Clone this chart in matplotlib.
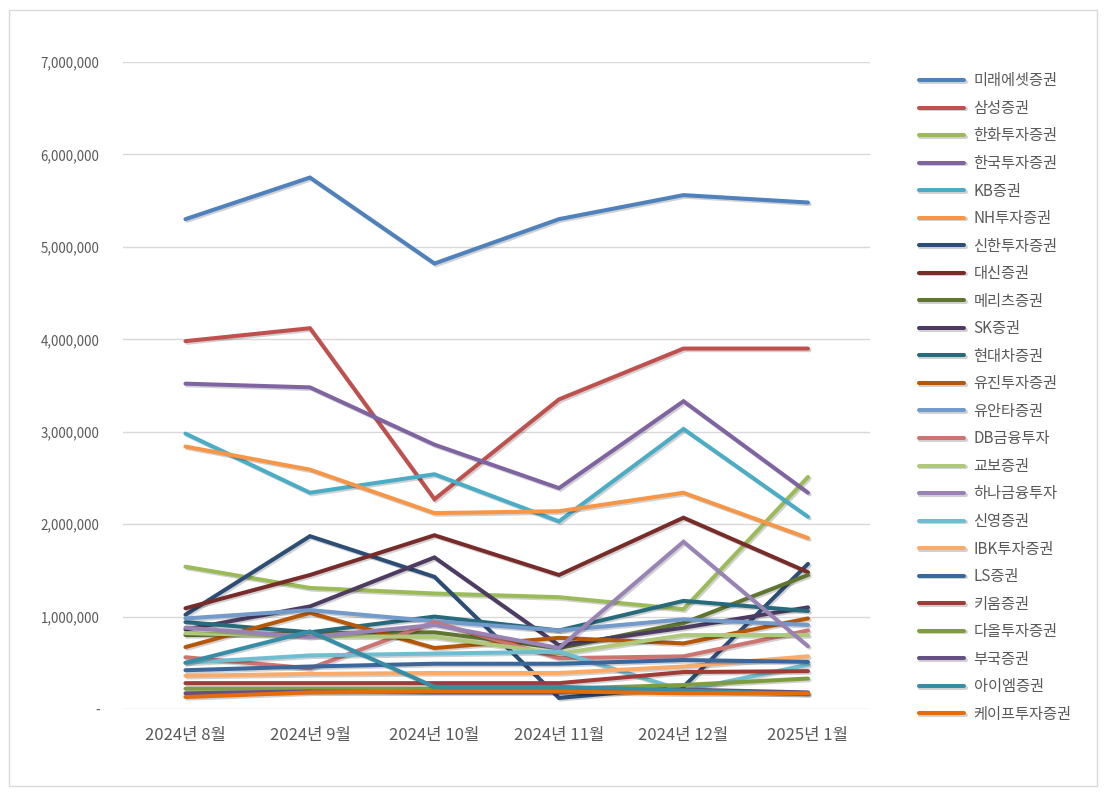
import matplotlib
matplotlib.use('Agg')
import matplotlib.pyplot as plt
import matplotlib.patheffects as pe
from matplotlib.patches import Rectangle
from matplotlib.ticker import FuncFormatter, MultipleLocator

plt.rcParams['font.family'] = ['Noto Sans CJK KR', 'DejaVu Sans']
plt.rcParams['axes.unicode_minus'] = False

# 월 (카테고리)
months = ['2024년 8월', '2024년 9월', '2024년 10월', '2024년 11월', '2024년 12월', '2025년 1월']

# 증권사별 값
miraeasset = [5300000, 5750000, 4820000, 5300000, 5560000, 5480000]
samsung = [3980000, 4120000, 2270000, 3350000, 3900000, 3900000]
hanwha = [1540000, 1310000, 1250000, 1210000, 1080000, 2510000]
korea_inv = [3520000, 3480000, 2860000, 2390000, 3330000, 2340000]
kb = [2980000, 2340000, 2540000, 2030000, 3030000, 2080000]
nh = [2840000, 2590000, 2120000, 2140000, 2340000, 1850000]
shinhan = [1020000, 1870000, 1430000, 120000, 240000, 1570000]
daishin = [1090000, 1450000, 1880000, 1450000, 2070000, 1480000]
meritz = [800000, 820000, 830000, 660000, 930000, 1450000]
sk = [860000, 1110000, 1640000, 690000, 880000, 1100000]
hyundai = [940000, 830000, 1000000, 850000, 1170000, 1060000]
eugene = [670000, 1040000, 660000, 770000, 710000, 980000]
yuanta = [980000, 1070000, 950000, 850000, 970000, 910000]
db = [560000, 440000, 940000, 550000, 570000, 850000]
kyobo = [820000, 790000, 780000, 600000, 800000, 800000]
hana = [880000, 780000, 910000, 660000, 1810000, 680000]
shinyoung = [500000, 580000, 600000, 620000, 200000, 480000]
ibk = [360000, 380000, 390000, 390000, 460000, 570000]
ls = [420000, 460000, 490000, 490000, 530000, 510000]
kiwoom = [280000, 280000, 280000, 280000, 400000, 410000]
daol = [220000, 220000, 220000, 220000, 260000, 330000]
bookook = [170000, 190000, 180000, 180000, 210000, 180000]
im = [500000, 840000, 240000, 240000, 200000, 160000]
cape = [130000, 180000, 190000, 190000, 170000, 170000]

series_names = ['미래에셋증권', '삼성증권', '한화투자증권', '한국투자증권', 'KB증권', 'NH투자증권',
                '신한투자증권', '대신증권', '메리츠증권', 'SK증권', '현대차증권', '유진투자증권',
                '유안타증권', 'DB금융투자', '교보증권', '하나금융투자', '신영증권', 'IBK투자증권',
                'LS증권', '키움증권', '다올투자증권', '부국증권', '아이엠증권', '케이프투자증권']
series_values = [miraeasset, samsung, hanwha, korea_inv, kb, nh,
                 shinhan, daishin, meritz, sk, hyundai, eugene,
                 yuanta, db, kyobo, hana, shinyoung, ibk,
                 ls, kiwoom, daol, bookook, im, cape]

# 엑셀 기본 테마 색상
colors = ['#4F81BD', '#C0504D', '#9BBB59', '#8064A2', '#4BACC6', '#F79646',
          '#2C4D75', '#772C2A', '#5F7530', '#4D3B62', '#276A7C', '#B65708',
          '#729ACA', '#CD7371', '#AFC97A', '#9983B5', '#6FBDD1', '#F9AB6B',
          '#3A679C', '#9F3B38', '#7E9D40', '#664F83', '#358EA6', '#E46C0A']

fig = plt.figure(figsize=(11.1, 7.98), dpi=100)
ax = fig.add_axes([0.111, 0.1115, 0.673, 0.8108])

x = list(range(len(months)))
shadow = [pe.SimpleLineShadow(offset=(1.2, -1.2), shadow_color='black', alpha=0.18), pe.Normal()]
for name, vals, c in zip(series_names, series_values, colors):
    ax.plot(x, vals, color=c, linewidth=2.9, label=name, solid_capstyle='round',
            solid_joinstyle='miter', path_effects=shadow)

ax.set_xlim(-0.5, len(months) - 0.5)
ax.set_ylim(0, 7000000)
ax.yaxis.set_major_locator(MultipleLocator(1000000))
ax.yaxis.set_major_formatter(FuncFormatter(lambda v, p: '-' if v == 0 else f'{int(v):,}'))
ax.set_xticks(x)
ax.set_xticklabels(months)
ax.grid(axis='y', color='#D9D9D9', linewidth=1)
ax.set_axisbelow(True)
for s in ax.spines.values():
    s.set_visible(False)
ax.tick_params(axis='both', length=0)
ax.tick_params(axis='y', labelsize=9.6, colors='#595959', pad=17)
ax.tick_params(axis='x', labelsize=12, colors='#595959', pad=13)

fig.legend(loc='upper left', bbox_to_anchor=(0.822, 0.917), frameon=False,
           fontsize=11, labelcolor='#595959', handlelength=3.0, handletextpad=0.6,
           labelspacing=0.69, borderaxespad=0)

# 바깥 테두리
fig.patches.append(Rectangle((0.008, 0.015), 0.98, 0.972, transform=fig.transFigure,
                             fill=False, edgecolor='#D9D9D9', linewidth=1))

plt.savefig('out.png', dpi=100)
plt.close()
